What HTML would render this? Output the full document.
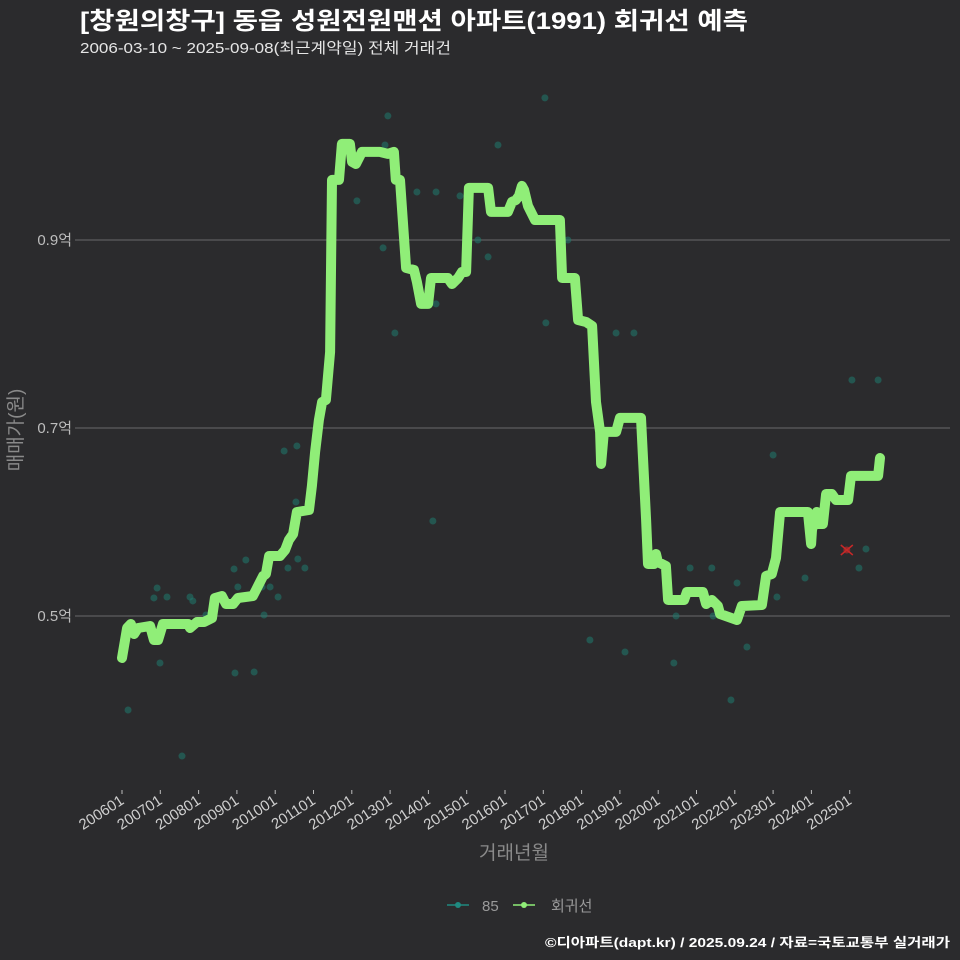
<!DOCTYPE html>
<html><head><meta charset="utf-8"><style>
html,body{margin:0;padding:0;background:#2b2b2d;}
svg{display:block;font-family:"Liberation Sans","Noto Sans CJK KR",sans-serif;}
</style></head><body>
<svg id="chart" width="960" height="960" viewBox="0 0 960 960">
<rect width="960" height="960" fill="#2b2b2d"/>
<text x="80" y="29" fill="#ffffff" font-size="24" font-weight="bold" textLength="668" lengthAdjust="spacingAndGlyphs">[창원의창구] 동읍 성원전원맨션 아파트(1991) 회귀선 예측</text>
<text x="80" y="53" fill="#e6e6e6" font-size="15" textLength="371" lengthAdjust="spacingAndGlyphs">2006-03-10 ~ 2025-09-08(최근계약일) 전체 거래건</text>
<g id="grid"></g>
<g id="yticks"></g>
<g id="xticks"></g>
<g id="points"></g>
<g id="line"></g>
<g id="marker"></g>
<text transform="translate(22,430) rotate(-90)" text-anchor="middle" fill="#8a8a8a" font-size="19">매매가(원)</text>
<text x="514" y="859" text-anchor="middle" fill="#8a8a8a" font-size="19">거래년월</text>
<g>
<g>
<line x1="447" y1="905" x2="469" y2="905" stroke="#1f8a80" stroke-width="1.5"/>
<circle cx="458" cy="905" r="3" fill="#1f8a80"/>
<text x="482" y="911" fill="#9a9a9a" font-size="15">85</text></g>
<g>
<line x1="513" y1="905" x2="535" y2="905" stroke="#90ee78" stroke-width="1.5"/>
<circle cx="524" cy="905" r="3" fill="#90ee78"/>
<text x="551" y="911" fill="#9a9a9a" font-size="15">회귀선</text></g>
</g>
<text x="950" y="947" text-anchor="end" fill="#ffffff" font-size="13" font-weight="bold" textLength="405" lengthAdjust="spacingAndGlyphs">©디아파트(dapt.kr) / 2025.09.24 / 자료=국토교통부 실거래가</text>
</svg>
<script>
// months since 2006-01, price in 만원
const lineMonths=[0,1.6,2.8,3.8,5.0,8.8,10.0,11.3,12.8,20.7,21.3,23.5,25.7,28.2,29.1,31.3,32.6,34.8,36.3,41.0,42.0,44.2,45.1,46.1,49.5,51.1,52.3,53.6,54.8,58.6,59.5,60.5,61.7,62.7,63.9,65.2,65.8,68.0,68.9,71.4,72.1,73.3,75.2,80.8,83.3,85.2,85.8,87.1,89.0,91.5,92.4,93.7,95.9,96.8,102.1,103.4,105.3,106.5,107.8,108.7,114.7,115.6,120.9,122.2,123.4,124.4,125.3,126.0,127.2,129.4,137.2,137.9,141.9,142.9,145.4,147.3,148.5,149.8,150.1,151.0,154.8,156.0,162.6,164.2,164.8,166.7,167.3,167.9,170.4,171.1,176.1,177.0,182.0,183.0,184.8,186.7,187.4,192.7,194.2,200.5,201.8,203.6,204.9,206.2,214.9,215.9,216.2,217.7,218.4,219.6,220.6,222.4,223.7,227.5,228.4,236.9,237.5];
const linePrices=[4553,4872,4915,4808,4872,4894,4745,4745,4915,4915,4872,4936,4936,4979,5192,5213,5128,5128,5192,5213,5277,5426,5447,5638,5638,5702,5809,5872,6106,6128,6383,6745,7085,7277,7298,7809,9639,9639,10022,10022,9831,9809,9937,9937,9916,9937,9639,9639,8703,8681,8554,8320,8320,8596,8596,8532,8596,8660,8660,9554,9554,9299,9299,9405,9426,9469,9575,9533,9362,9213,9213,8596,8596,8149,8128,8086,7277,6958,6617,6958,6958,7107,7107,6021,5553,5553,5660,5575,5532,5170,5170,5255,5255,5128,5170,5106,5021,4957,5106,5117,5426,5447,5617,6106,6106,5766,5915,6106,5979,5979,6298,6298,6234,6234,6490,6490,6681];
const dealMonths=[1.9,10.0,11.0,11.9,14.1,18.8,21.3,22.2,26.3,28.2,35.4,35.1,36.3,38.8,41.4,43.9,44.5,46.4,48.9,50.8,52.0,54.8,55.1,54.5,57.3,73.6,81.8,82.4,83.3,85.5,92.4,97.4,98.4,98.4,105.9,111.5,114.7,117.8,132.5,132.8,139.7,146.6,154.8,157.6,160.4,172.9,173.6,178.0,184.8,185.2,190.8,192.7,195.8,205.2,204.0,214.0,228.7,230.9,233.1,236.9];
const dealPrices=[4000,5192,5298,4500,5202,3510,5202,5160,5011,5011,4394,5500,5309,5596,4404,5309,5011,5309,5202,6755,5511,6809,5606,6213,5511,9416,8916,10011,10320,8011,9511,6011,9511,8320,9469,9000,8820,10011,10512,8118,9000,4745,8011,4617,8011,4500,5000,5511,5511,5000,4106,5351,4670,5202,6713,5404,7511,5511,5713,7511];
const latestMonth=227.1, latestPrice=5702;
const yTickValues=[5000,7000,9000];
const yTickLabels=["0.5억","0.7억","0.9억"];
const xTickLabels=["200601","200701","200801","200901","201001","201101","201201","201301","201401","201501","201601","201701","201801","201901","202001","202101","202201","202301","202401","202501"];

const NS="http://www.w3.org/2000/svg";
function X(m){return 122+m*38.3/12;}
function Y(p){return 616-(p-5000)*0.094;}
function mk(tag,attrs,parent){const e=document.createElementNS(NS,tag);for(const k in attrs)e.setAttribute(k,attrs[k]);parent.appendChild(e);return e;}
const grid=document.getElementById('grid'),yt=document.getElementById('yticks'),xt=document.getElementById('xticks');
yTickValues.forEach((v,i)=>{
  const l=mk('line',{x1:75,x2:950,y1:Y(v),y2:Y(v),stroke:'#6a6a6a','stroke-width':1},grid);
  
  
  const t=mk('text',{x:72,y:Y(v)+5,'text-anchor':'end',fill:'#bdbdbd','font-size':15},yt);
  t.textContent=yTickLabels[i];
  
  
});
xTickLabels.forEach((s,i)=>{
  const x=X(i*12);
  const tk=mk('line',{x1:x,x2:x,y1:790,y2:794,stroke:'#bdbdbd','stroke-width':1},xt);
  
  
  const t=mk('text',{x:x+3,y:803,'text-anchor':'end',fill:'#cfcfcf','font-size':15,transform:`rotate(-33 ${x+3} 803)`},xt);
  t.textContent=s;
  
  
});
const pts=document.getElementById('points');
dealMonths.forEach((m,i)=>{
  const c=mk('circle',{cx:X(m),cy:Y(dealPrices[i]),r:3.5,fill:'#1f7a6e','fill-opacity':0.55},pts);
  
  
});
const d=lineMonths.map((m,i)=>(i?'L':'M')+X(m).toFixed(1)+' '+Y(linePrices[i]).toFixed(1)).join(' ');
const p=mk('path',{d:d,fill:'none',stroke:'#90ee78','stroke-width':10,'stroke-linejoin':'round','stroke-linecap':'round'},document.getElementById('line'));


const mx=X(latestMonth),my=Y(latestPrice),mg=document.getElementById('marker');
const c2=mk('circle',{cx:mx,cy:my,r:3.5,fill:'#8b2a2a'},mg);


const xm=mk('path',{d:`M${mx-6} ${my-5}L${mx+6} ${my+5}M${mx-6} ${my+5}L${mx+6} ${my-5}`,stroke:'#c62828','stroke-width':1.5},mg);


</script>
</body></html>
